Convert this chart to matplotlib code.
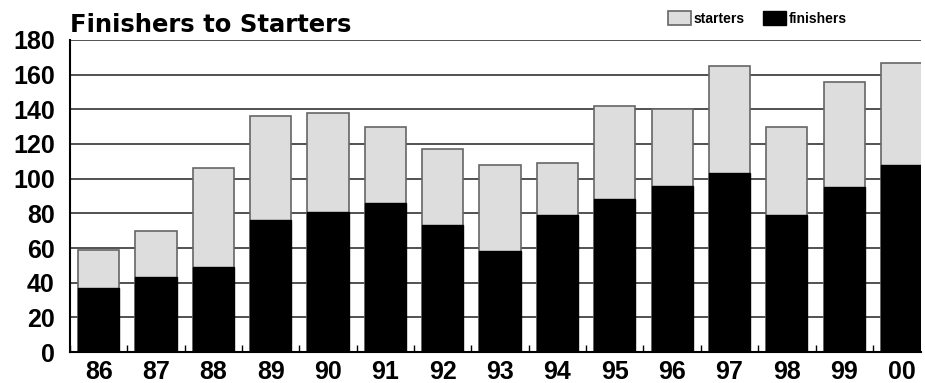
import numpy as np
import matplotlib
matplotlib.use("Agg")
import matplotlib.pyplot as plt

years = ["86", "87", "88", "89", "90", "91", "92", "93", "94", "95", "96", "97", "98", "99", "00"]
starters = [59, 70, 106, 136, 138, 130, 117, 108, 109, 142, 140, 165, 130, 156, 167]
finishers = [37, 43, 49, 76, 81, 86, 73, 58, 79, 88, 96, 103, 79, 95, 108]

plt.rcParams['font.family'] = ['Liberation Sans', 'DejaVu Sans']
plt.rcParams['font.weight'] = 'bold'

fig = plt.figure(figsize=(9.25, 3.83), dpi=100)
ax = fig.add_axes([0.0757, 0.0809, 0.9200, 0.8147])

x = np.arange(len(years))
w = 0.72
ax.bar(x, starters, w, color='#dddddd', edgecolor='#666666', linewidth=1.2, label='starters', zorder=2)
ax.bar(x, finishers, w, color='black', edgecolor='black', linewidth=1.0, label='finishers', zorder=3)

ax.set_ylim(0, 180)
ax.set_xlim(-0.49, 14.34)
ax.set_yticks(range(0, 181, 20))
ax.yaxis.grid(True, color='#222222', linewidth=1.1, zorder=0)
ax.set_axisbelow(True)

ax.set_xticks(x)
ax.set_xticklabels(years)
ax.set_xticks(np.arange(len(years)) - 0.5, minor=True)
ax.tick_params(axis='x', which='major', length=0, pad=6, labelsize=18)
ax.tick_params(axis='x', which='minor', direction='in', length=5, width=1)
ax.tick_params(axis='y', length=0, pad=11, labelsize=18)

for s in ['top', 'right']:
    ax.spines[s].set_visible(False)
ax.spines['left'].set_linewidth(1.5)
ax.spines['bottom'].set_linewidth(1.5)

fig.text(0.0757, 1 - 32 / 383, "Finishers to Starters", fontsize=17.5, fontweight='bold',
         family='DejaVu Sans', ha='left', va='baseline')

ax.legend(loc='center right', bbox_to_anchor=(0.919, 1.07), ncol=2, frameon=False,
          handlelength=1.65, handleheight=1.2, handletextpad=0.2,
          columnspacing=1.3, borderaxespad=0, prop={'weight': 'bold', 'size': 10})

fig.savefig("out.png", dpi=100)
